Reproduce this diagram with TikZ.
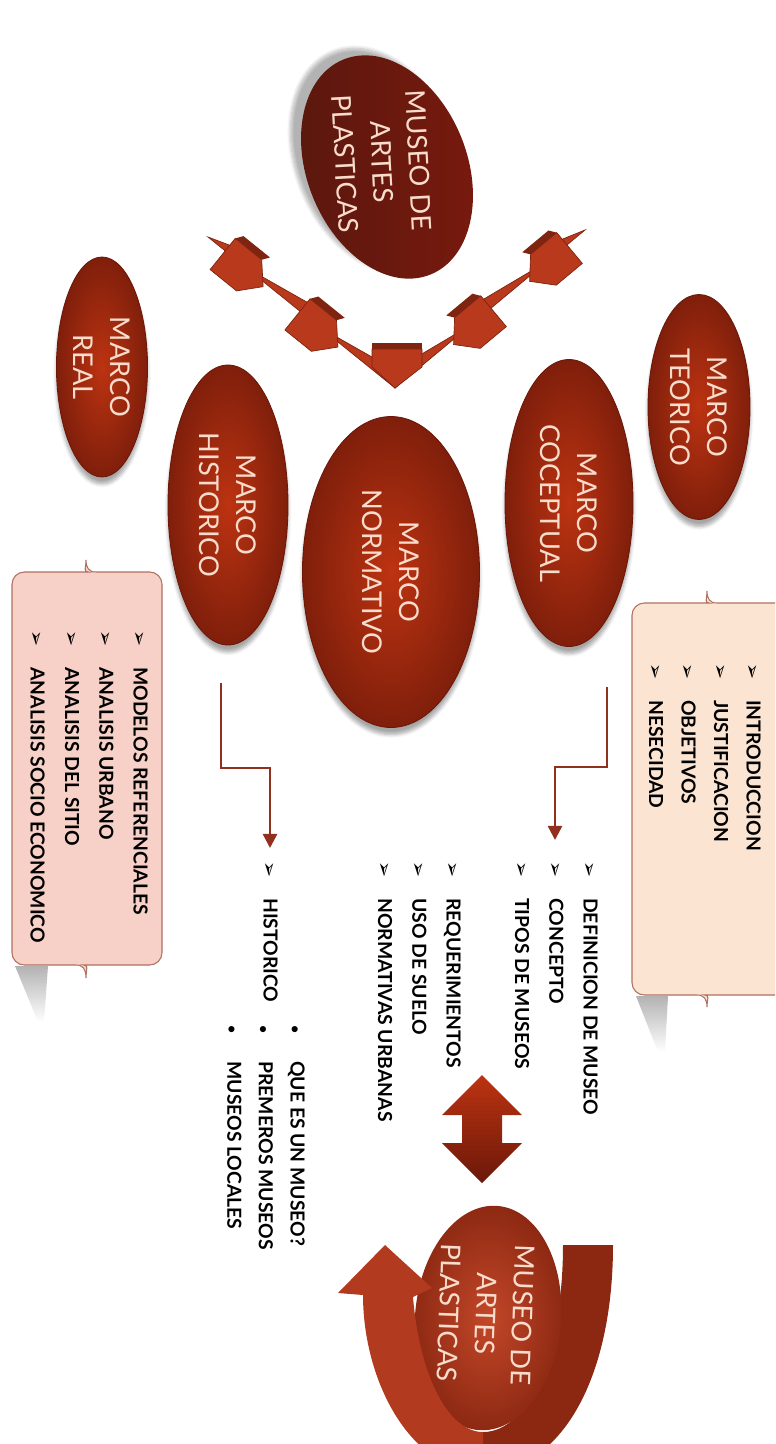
\documentclass[tikz,border=0pt]{standalone}
\usepackage{fontspec}
\setmainfont{Lato}
\newfontfamily\dejavu{DejaVu Sans}
\usetikzlibrary{shapes.geometric,arrows.meta,calc,shadows.blur}

\definecolor{mdark}{HTML}{6B1809}
\definecolor{mbright}{HTML}{BC3311}
\definecolor{mtext}{HTML}{F9DCCB}
\definecolor{topdark}{HTML}{6A1C10}
\definecolor{chevred}{HTML}{B8391B}
\definecolor{chevdark}{HTML}{7E2410}
\definecolor{realbox}{HTML}{F7D1C7}
\definecolor{teobox}{HTML}{FBE4D1}
\definecolor{boxedge}{HTML}{B0705F}
\definecolor{linkred}{HTML}{92301F}
\definecolor{loopred}{HTML}{B23A1E}
\definecolor{loopdark}{HTML}{8C2812}

\newcommand{\chk}{\makebox[21pt][l]{\dejavu\fontsize{11}{11}\selectfont ➢}}
\newcommand{\bul}{\makebox[20.5pt][l]{\fontsize{8}{8}\selectfont\textbullet}}

\tikzset{
    chev/.pic={
        % top face
        \fill[chevdark] (-26,-16) -- (8,-16) -- (13,-23) -- (-21,-23) -- cycle;
        % front face
        \filldraw[fill=chevred, draw=chevdark, line width=0.4pt]
            (-26,-16) -- (8,-16) -- (26,4) -- (8,24) -- (-26,24) -- cycle;
    }
}

\begin{document}
\begin{tikzpicture}[x=0.02cm, y=-0.02cm,
    marco/.style={ellipse, inner sep=0pt, rotate=-90, align=center,
        inner color=mbright, outer color=mdark!75!mbright, draw=mdark, line width=0.5pt,
        text=mtext, font=\fontsize{15.5}{21}\selectfont,
        blur shadow={shadow xshift=0pt, shadow yshift=-4pt, shadow blur steps=6, shadow opacity=35}},
    lst/.style={rotate=-90, anchor=north west, inner sep=0pt, align=left,
        font=\fontsize{11}{19.5}\selectfont\bfseries},
    link/.style={linkred, line width=1.4pt, -{Triangle[length=8pt,width=8pt]}},
    boxline/.style={draw=boxedge, line width=0.6pt}
]
\useasboundingbox (0,0) rectangle (775,1444);
\clip (0,0) rectangle (775,1444);

% museo (top)
\node[ellipse, minimum width=4.64cm, minimum height=3.2cm, rotate=-68, inner sep=0pt,
    left color=topdark!85!black, right color=topdark!90!red,
    blur shadow={shadow xshift=-6pt, shadow yshift=4pt, shadow blur steps=8, shadow opacity=30}]
    (museo) at (387,167) {};
\node[rotate=-87, align=center, text=mtext, font=\fontsize{15.5}{21}\selectfont]
    (museotxt) at (382,162) {MUSEO DE\\ARTES\\PLASTICAS};

% converging chevrons
\coordinate (tl) at (208,237);
\coordinate (tr) at (585,230);
\coordinate (bt) at (395,388);
\foreach \a/\b in {0/.2,.2/.6,.6/1} {
    \filldraw[fill=chevred, draw=chevdark, line width=0.4pt]
        ($(tl)!\a!(bt)$) -- ($(tl)!\b!(bt)$) -- ($(tl)!\b!(bt)!9pt!-90:(tl)$) -- cycle;
    \filldraw[fill=chevred, draw=chevdark, line width=0.4pt]
        ($(tr)!\a!(bt)$) -- ($(tr)!\b!(bt)$) -- ($(tr)!\b!(bt)!9pt!90:(tr)$) -- cycle;
}
\pic[rotate=-38.9] at ($(tl)!.2!(bt)$) {chev};
\pic[rotate=-38.9] at ($(tl)!.6!(bt)$) {chev};
\pic[rotate=-140.2, yscale=-1] at ($(tr)!.2!(bt)$) {chev};
\pic[rotate=-140.2, yscale=-1] at ($(tr)!.6!(bt)$) {chev};
\fill[chevdark] (372,343) -- (422,343) -- (422,350) -- (372,350) -- cycle;
\filldraw[fill=chevred, draw=chevdark, line width=0.4pt]
    (372,349) -- (422,349) -- (422,367) -- (bt) -- (372,367) -- cycle;

% marcos
\node[marco, minimum width=4.4cm, minimum height=1.82cm] (real) at (102,367) {MARCO\\REAL};
\node[marco, minimum width=5.6cm, minimum height=2.4cm] (historico) at (228,505) {MARCO\\HISTORICO};
\node[marco, minimum width=6.22cm, minimum height=3.54cm] (normativo) at (391,572) {MARCO\\NORMATIVO};
\node[marco, minimum width=5.74cm, minimum height=2.56cm] (coceptual) at (569,503) {MARCO\\COCEPTUAL};
\node[marco, minimum width=4.5cm, minimum height=2.04cm] (teorico) at (699,407) {MARCO\\TEORICO};

% box shadows
\shade[top color=black!30, bottom color=white] (15,966) -- (48,966) -- (44,1022) -- (38,1022) -- cycle;
\shade[top color=black!30, bottom color=white] (636,996) -- (668,996) -- (665,1052) -- (658,1052) -- cycle;

% marco real box
\draw[boxline, fill=realbox]
    (76,965) [rounded corners=7pt] -- (12,965) -- (12,572) -- (76,572) [sharp corners]
    .. controls (83,572) and (86,568) .. (86,560)
    .. controls (86,568) and (89,572) .. (96,572) [rounded corners=7pt]
    -- (162,572) -- (162,965) -- (96,965) [sharp corners]
    .. controls (89,965) and (86,969) .. (86,978)
    .. controls (86,969) and (83,965) .. (76,965) -- cycle;
\node[lst] (reallist) at (148,630)
    {\chk MODELOS REFERENCIALES\\ \chk ANALISIS URBANO\\ \chk ANALISIS DEL SITIO\\ \chk ANALISIS SOCIO ECONOMICO};

% marco teorico box
\draw[boxline, fill=teobox]
    (697,995) [rounded corners=7pt] -- (632,995) -- (632,603) -- (697,603) [sharp corners]
    .. controls (704,603) and (707,599) .. (707,591)
    .. controls (707,599) and (710,603) .. (717,603) [rounded corners=7pt]
    -- (800,603) -- (800,995) -- (717,995) [sharp corners]
    .. controls (710,995) and (707,999) .. (707,1007)
    .. controls (707,999) and (704,995) .. (697,995) -- cycle;
\node[lst, font=\fontsize{11}{18.5}\selectfont\bfseries] (teolist) at (761,663)
    {\chk INTRODUCCION\\ \chk JUSTIFICACION\\ \chk OBJETIVOS\\ \chk NESECIDAD};

% elbow links
\coordinate (hs) at (221,683);
\coordinate (he) at (270,848);
\draw[link] (hs) -- ++(0,85) -| (he);
\coordinate (cs) at (607,687);
\coordinate (ce) at (555,840);
\draw[link] (cs) -- ++(0,80) -| (ce);

% lists
\node[lst] (conclist) at (598,861) {\chk DEFINICION DE MUSEO\\ \chk CONCEPTO\\ \chk TIPOS DE MUSEOS};
\node[lst] (normlist) at (461,861) {\chk REQUERIMIENTOS\\ \chk USO DE SUELO\\ \chk NORMATIVAS URBANAS};
\node[lst] (histlist) at (278,861) {\chk HISTORICO};
\node[lst, font=\fontsize{11}{18}\selectfont\bfseries] (sublist) at (305,1025)
    {\bul QUE ES UN MUSEO?\\ \bul PREMEROS MUSEOS\\ \bul MUSEOS LOCALES};

% double arrow
\shade[top color=mbright, bottom color=mdark]
    (482,1075) -- (522,1115) -- (502,1115) -- (502,1143) -- (522,1143) -- (482,1183)
    -- (442,1143) -- (462,1143) -- (462,1115) -- (442,1115) -- cycle;

% museo (bottom) with loop arrow
\fill[loopdark] (613,1245) .. controls (613,1380) and (560,1472) .. (483,1472)
    -- (483,1432) .. controls (530,1432) and (563,1350) .. (563,1245) -- cycle;
\node[ellipse, minimum width=4.5cm, minimum height=2.92cm, rotate=-95, inner sep=0pt,
    inner color=mbright!90!white, outer color=loopdark]
    (museob) at (488,1318) {};
\node[rotate=-92, align=center, text=mtext, font=\fontsize{15.5}{21}\selectfont]
    (museobtxt) at (486,1314) {MUSEO DE\\ARTES\\PLASTICAS};
\fill[loopred] (483,1472) .. controls (410,1472) and (363,1380) .. (363,1295)
    -- (338,1293) -- (385,1245) -- (432,1288) -- (413,1297)
    .. controls (420,1380) and (450,1432) .. (483,1432) -- cycle;

\end{tikzpicture}
\end{document}
